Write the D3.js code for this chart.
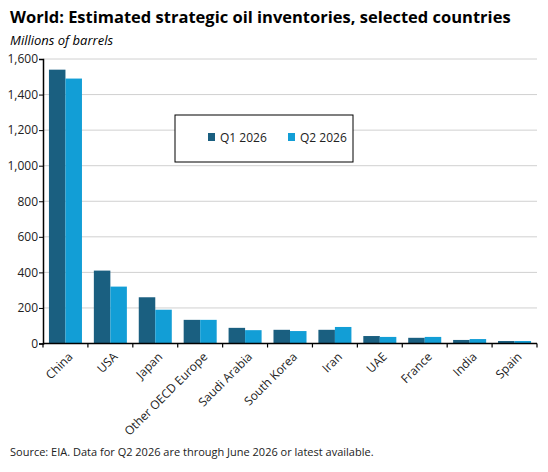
<!DOCTYPE html><html><head><meta charset="utf-8">
<script src="https://cdn.jsdelivr.net/npm/d3@7"></script>
<style>body{margin:0;background:#fff}text{font-family:"Open Sans",Arial,sans-serif}</style></head><body>
<svg id="c" width="548" height="472"></svg>
<script>
const categories=["China","USA","Japan","Other OECD Europe","Saudi Arabia","South Korea","Iran","UAE","France","India","Spain"];
const seriesNames=["Q1 2026","Q2 2026"];
const q1=[1540,410,260,133,88,77,77,42,32,20,14];
const q2=[1490,320,190,133,75,70,93,37,37,25,14];
const yTicks=[0,200,400,600,800,1000,1200,1400,1600];
const colors=["#1a5f80","#129ed6"];
const svg=d3.select("#c");
const L=43,R=537,T=59,B=343.5;
const x=d3.scaleBand().domain(categories).range([L,R]);
const x1=d3.scaleBand().domain(seriesNames).range([0,x.bandwidth()]).paddingInner(0).paddingOuter(0.36);
const y=d3.scaleLinear().domain([0,1600]).range([B,T]);
svg.append("text").attr("x",10).attr("y",23).attr("font-size",16.5).attr("font-weight",700).text("World: Estimated strategic oil inventories, selected countries");
svg.append("text").attr("x",10).attr("y",45).attr("font-size",13).attr("font-style","italic").text("Millions of barrels");
svg.append("g").selectAll("line").data(yTicks.slice(1)).join("line").attr("x1",L).attr("x2",R).attr("y1",d=>y(d)).attr("y2",d=>y(d)).attr("stroke","#d0d0d0");
const data=[q1,q2];
data.forEach((s,si)=>{svg.append("g").selectAll("rect").data(s).join("rect")
 .attr("x",(d,i)=>x(categories[i])+x1(seriesNames[si])).attr("width",x1.bandwidth())
 .attr("y",d=>y(d)).attr("height",d=>B-y(d)).attr("fill",colors[si]);});
const ya=svg.append("g").attr("transform",`translate(${L},0)`).call(d3.axisLeft(y).tickValues(yTicks).tickSize(4).tickFormat(d3.format(",")));
ya.select(".domain").attr("stroke","#000").attr("stroke-width",1.5);
ya.selectAll("text").attr("font-size",12).attr("fill","#222").attr("x",-5);
const xa=svg.append("g").attr("transform",`translate(0,${B})`);
xa.append("line").attr("x1",L).attr("x2",R).attr("stroke","#000").attr("stroke-width",1.5);
xa.selectAll("line.t").data(categories.map(c=>x(c)).concat([R])).join("line").attr("class","t").attr("x1",d=>d).attr("x2",d=>d).attr("y1",0).attr("y2",4).attr("stroke","#000").attr("stroke-width",1.2);
xa.selectAll("text").data(categories).join("text").attr("font-size",12).attr("fill","#222").attr("text-anchor","end")
 .attr("transform",d=>`translate(${x(d)+x.bandwidth()/2+8},${14}) rotate(-45)`).text(d=>d);
const lg=svg.append("g");
lg.append("rect").attr("x",175).attr("y",115).attr("width",178).attr("height",47).attr("fill","#fff").attr("stroke","#000");
seriesNames.forEach((n,i)=>{const gx=208+i*80;
 lg.append("rect").attr("x",gx).attr("y",133).attr("width",7).attr("height",8).attr("fill",colors[i]);
 lg.append("text").attr("x",gx+12).attr("y",141.5).attr("font-size",12).attr("fill","#222").text(n);});
svg.append("text").attr("x",10).attr("y",456).attr("font-size",11).attr("fill","#222").text("Source: EIA. Data for Q2 2026 are through June 2026 or latest available.");
</script></body></html>
